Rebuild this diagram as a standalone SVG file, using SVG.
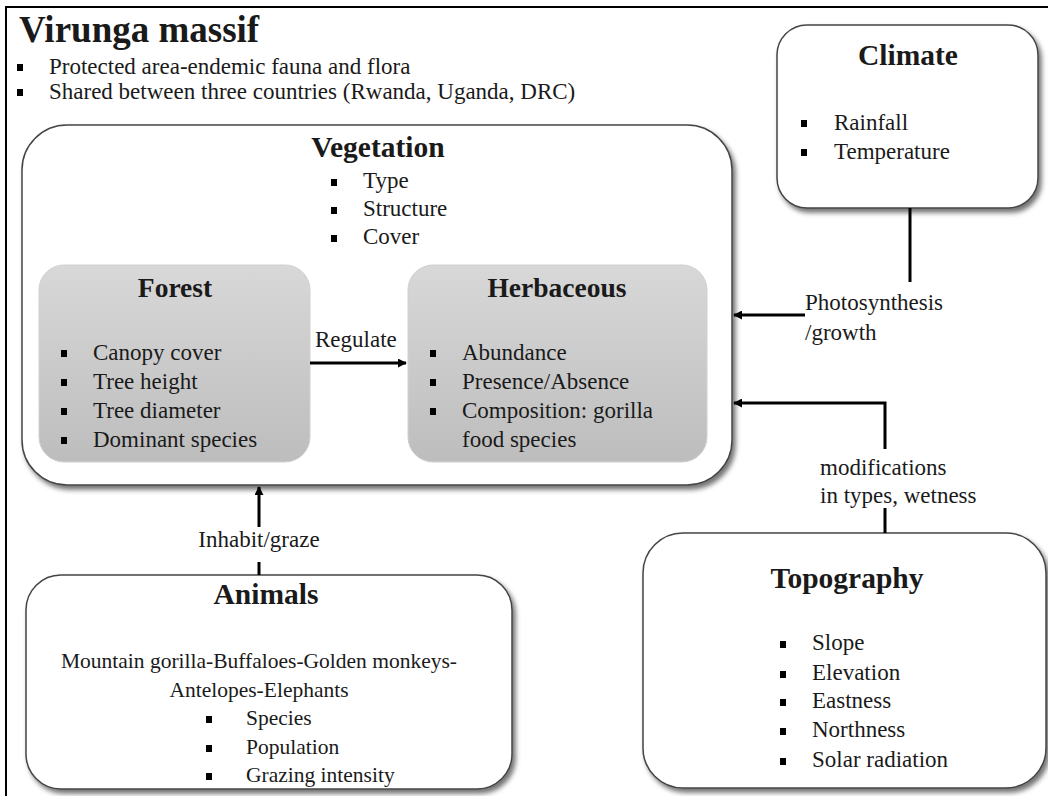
<svg xmlns="http://www.w3.org/2000/svg" width="1048" height="796" viewBox="0 0 1048 796">
<style>
text{font-family:"Liberation Serif","DejaVu Serif",serif;fill:#1a1a1a;font-size:23px}
.h{font-weight:bold;font-size:29.5px;text-anchor:middle}
.h2{font-weight:bold;font-size:27.5px;text-anchor:middle}
.c{text-anchor:middle}
.a{font-size:21.5px}
.box{fill:#fff;stroke:#444;stroke-width:1.5;filter:url(#sh)}
.inner{fill:url(#g);stroke:#d0d0d0;stroke-width:1}
.ln{stroke:#000;stroke-width:3;fill:none}
.b{fill:#000}
</style>
<defs>
<filter id="sh" x="-5%" y="-5%" width="115%" height="115%">
<feDropShadow dx="3" dy="4" stdDeviation="2.5" flood-color="#000" flood-opacity="0.55"/>
</filter>
<linearGradient id="g" x1="0" y1="0" x2="0" y2="1">
<stop offset="0" stop-color="#d8d8d8"/>
<stop offset="1" stop-color="#bdbdbd"/>
</linearGradient>
<marker id="ah" viewBox="0 0 10 10" refX="9" refY="5" markerWidth="3" markerHeight="3" orient="auto" markerUnits="strokeWidth">
<path d="M0,0 L10,5 L0,10 z" fill="#000"/>
</marker>
</defs>
<rect width="1048" height="796" fill="#fff"/>
<rect x="6" y="7" width="1050" height="800" fill="none" stroke="#000" stroke-width="2"/>

<g id="title">
<text x="19" y="42" style="font-size:37px;font-weight:bold">Virunga massif</text>
<rect x="17" y="64" width="6" height="7" class="b"/>
<text x="49" y="74">Protected area-endemic fauna and flora</text>
<rect x="17" y="89" width="6" height="7" class="b"/>
<text x="49" y="99">Shared between three countries (Rwanda, Uganda, DRC)</text>
</g>

<g id="vegetation">
<rect x="22" y="125" width="710" height="360" rx="45" class="box"/>
<text x="378" y="157" class="h">Vegetation</text>
<rect x="331" y="179" width="6" height="7" class="b"/><text x="363" y="188">Type</text>
<rect x="331" y="207" width="6" height="7" class="b"/><text x="363" y="216">Structure</text>
<rect x="331" y="235" width="6" height="7" class="b"/><text x="363" y="244">Cover</text>
</g>

<g id="forest">
<rect x="39" y="265" width="271" height="197" rx="25" class="inner"/>
<text x="175" y="297" class="h2">Forest</text>
<rect x="61" y="350" width="6" height="7" class="b"/><text x="93" y="360">Canopy cover</text>
<rect x="61" y="379" width="6" height="7" class="b"/><text x="93" y="389">Tree height</text>
<rect x="61" y="408" width="6" height="7" class="b"/><text x="93" y="418">Tree diameter</text>
<rect x="61" y="437" width="6" height="7" class="b"/><text x="93" y="447">Dominant species</text>
</g>

<g id="herbaceous">
<rect x="408" y="265" width="299" height="197" rx="25" class="inner"/>
<text x="557" y="297" class="h2">Herbaceous</text>
<rect x="430" y="350" width="6" height="7" class="b"/><text x="462" y="360">Abundance</text>
<rect x="430" y="379" width="6" height="7" class="b"/><text x="462" y="389">Presence/Absence</text>
<rect x="430" y="408" width="6" height="7" class="b"/><text x="462" y="418">Composition: gorilla</text>
<text x="462" y="447">food species</text>
</g>

<g id="climate">
<rect x="777" y="25" width="261" height="183" rx="30" class="box"/>
<text x="908" y="65" class="h">Climate</text>
<rect x="801" y="120" width="6" height="7" class="b"/><text x="834" y="130">Rainfall</text>
<rect x="801" y="149" width="6" height="7" class="b"/><text x="834" y="159">Temperature</text>
</g>

<g id="animals">
<rect x="26" y="575" width="486" height="214" rx="35" class="box"/>
<text x="266" y="604" class="h">Animals</text>
<text x="259" y="668" class="c a">Mountain gorilla-Buffaloes-Golden monkeys-</text>
<text x="259" y="697" class="c a">Antelopes-Elephants</text>
<rect x="206" y="716" width="6" height="7" class="b"/><text x="246" y="725" class="a">Species</text>
<rect x="206" y="745" width="6" height="7" class="b"/><text x="246" y="754" class="a">Population</text>
<rect x="206" y="773" width="6" height="7" class="b"/><text x="246" y="782" class="a">Grazing intensity</text>
</g>

<g id="topography">
<rect x="643" y="533" width="403" height="255" rx="40" class="box"/>
<text x="847" y="588" class="h">Topography</text>
<rect x="780" y="641" width="6" height="7" class="b"/><text x="812" y="650">Slope</text>
<rect x="780" y="671" width="6" height="7" class="b"/><text x="812" y="680">Elevation</text>
<rect x="780" y="699" width="6" height="7" class="b"/><text x="812" y="708">Eastness</text>
<rect x="780" y="728" width="6" height="7" class="b"/><text x="812" y="737">Northness</text>
<rect x="780" y="758" width="6" height="7" class="b"/><text x="812" y="767">Solar radiation</text>
</g>

<g id="connectors">
<line x1="310" y1="363" x2="406" y2="363" class="ln" marker-end="url(#ah)"/>
<text x="315" y="347">Regulate</text>
<line x1="910" y1="208" x2="910" y2="282" class="ln"/>
<line x1="805" y1="315" x2="734" y2="315" class="ln" marker-end="url(#ah)"/>
<text x="805" y="310">Photosynthesis</text>
<text x="805" y="340">/growth</text>
<polyline points="885,449 885,403 734,403" class="ln" marker-end="url(#ah)"/>
<line x1="885" y1="508" x2="885" y2="533" class="ln"/>
<text x="820" y="475">modifications</text>
<text x="820" y="503">in types, wetness</text>
<line x1="259" y1="527" x2="259" y2="487" class="ln" marker-end="url(#ah)"/>
<line x1="259" y1="562" x2="259" y2="575" class="ln"/>
<text x="259" y="547" class="c">Inhabit/graze</text>
</g>
</svg>
